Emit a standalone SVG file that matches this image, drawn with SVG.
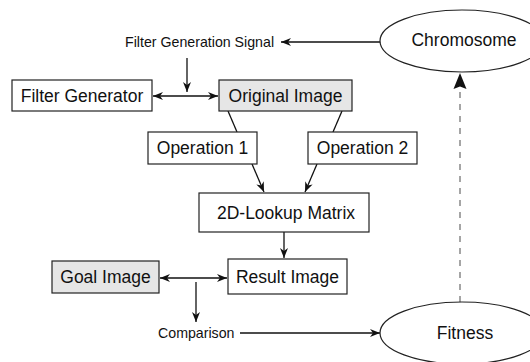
<svg xmlns="http://www.w3.org/2000/svg" width="530" height="362" viewBox="0 0 530 362">
<defs>
<style>
.box{fill:#fff;stroke:#222;stroke-width:1.2}
.gray{fill:#e6e6e6}
.el{fill:#fff;stroke:#222;stroke-width:1.2}
.t{font-family:"Liberation Sans",Arial,sans-serif;font-size:17.5px;fill:#111;text-anchor:middle;dominant-baseline:central}
.s{font-family:"Liberation Sans",Arial,sans-serif;font-size:14.2px;fill:#111;dominant-baseline:central}
.c{fill:none;stroke:#111;stroke-width:1.3}
.d{fill:none;stroke:#888;stroke-width:1.5;stroke-dasharray:6 6}
</style>
<marker id="a" viewBox="0 0 10 8" refX="10" refY="4" markerWidth="10" markerHeight="8" markerUnits="userSpaceOnUse" orient="auto-start-reverse">
<path d="M0,0 L10,4 L0,8 L3,4 Z" fill="#111"/>
</marker>
</defs>
<g id="connectors">
<line class="c" x1="381" y1="42" x2="281" y2="42" marker-end="url(#a)"/>
<line class="c" x1="187" y1="58" x2="187" y2="92" marker-end="url(#a)"/>
<line class="c" x1="153" y1="96" x2="218" y2="96" marker-start="url(#a)" marker-end="url(#a)"/>
<line class="c" x1="228" y1="111" x2="237" y2="132"/>
<line class="c" x1="342" y1="111" x2="333" y2="132"/>
<line class="c" x1="252" y1="164" x2="264" y2="192" marker-end="url(#a)"/>
<line class="c" x1="317" y1="164" x2="305" y2="192" marker-end="url(#a)"/>
<line class="c" x1="284" y1="232" x2="284" y2="258" marker-end="url(#a)"/>
<line class="c" x1="160" y1="278" x2="227" y2="278" marker-start="url(#a)" marker-end="url(#a)"/>
<line class="c" x1="196" y1="282" x2="196" y2="322" marker-end="url(#a)"/>
<line class="c" x1="240" y1="333" x2="380" y2="333" marker-end="url(#a)"/>
<line class="d" x1="460" y1="302" x2="460" y2="86"/>
<path d="M460,73 L466.5,89 L460,86.5 L453.5,89 Z" fill="#111"/>
</g>
<g id="signal"><text class="s" x="125" y="42">Filter Generation Signal</text></g>
<g id="comparison"><text class="s" x="158" y="333">Comparison</text></g>
<g id="chromosome"><ellipse class="el" cx="462" cy="41" rx="82" ry="31"/><text class="t" x="464" y="40">Chromosome</text></g>
<g id="filter-generator"><rect class="box" x="12" y="80" width="140" height="31"/><text class="t" x="82" y="95.5">Filter Generator</text></g>
<g id="original-image"><rect class="box gray" x="219" y="80" width="133" height="31"/><text class="t" x="285.5" y="95.5">Original Image</text></g>
<g id="operation-1"><rect class="box" x="148" y="132" width="109" height="32"/><text class="t" x="202.5" y="148">Operation 1</text></g>
<g id="operation-2"><rect class="box" x="308" y="132" width="109" height="32"/><text class="t" x="362.5" y="148">Operation 2</text></g>
<g id="lookup-matrix"><rect class="box" x="199" y="193" width="170" height="39"/><text class="t" x="286" y="212.5">2D-Lookup Matrix</text></g>
<g id="goal-image"><rect class="box gray" x="52" y="261" width="107" height="32"/><text class="t" x="105.5" y="277">Goal Image</text></g>
<g id="result-image"><rect class="box" x="228" y="259" width="119" height="35"/><text class="t" x="287.5" y="276.5">Result Image</text></g>
<g id="fitness"><ellipse class="el" cx="462" cy="333" rx="82" ry="31"/><text class="t" x="465" y="333">Fitness</text></g>
</svg>
